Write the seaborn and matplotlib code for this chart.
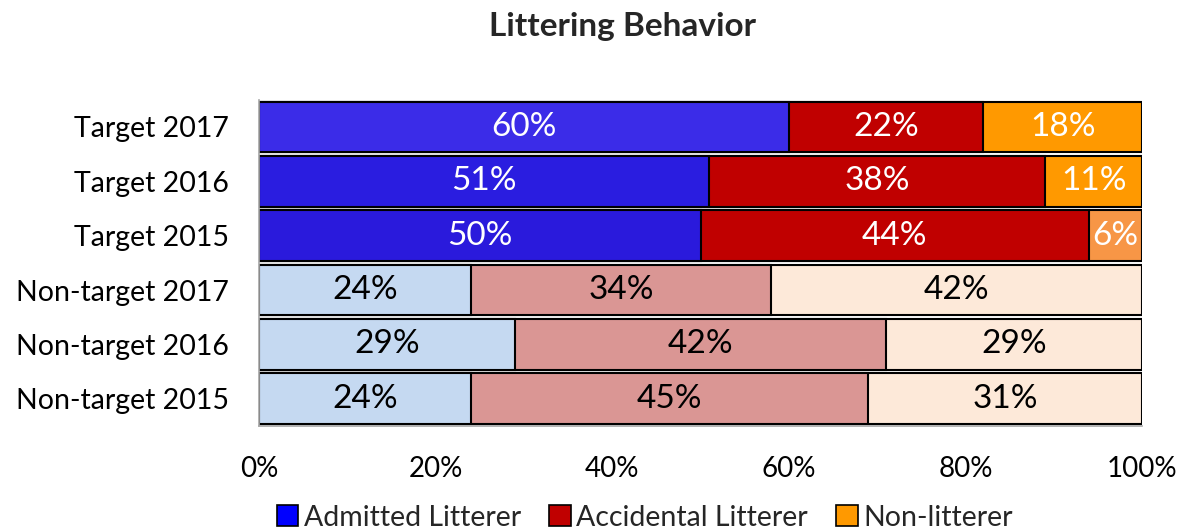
import numpy as np
import pandas as pd
import matplotlib
matplotlib.use("Agg")
import matplotlib.pyplot as plt
from matplotlib.patches import Patch
from matplotlib.ticker import FixedLocator, PercentFormatter
import seaborn as sns

categories = ["Target 2017", "Target 2016", "Target 2015",
              "Non-target 2017", "Non-target 2016", "Non-target 2015"]
admitted = [60, 51, 50, 24, 29, 24]
accidental = [22, 38, 44, 34, 42, 45]
non_litterer = [18, 11, 6, 42, 29, 31]
series_names = ["Admitted Litterer", "Accidental Litterer", "Non-litterer"]

admitted_colors = ["#3B2CE8", "#2A1DE0", "#2A1ADC", "#C5D9F1", "#C5D9F1", "#C5D9F1"]
accidental_colors = ["#C00000", "#C00000", "#C00000", "#DA9694", "#DA9694", "#DA9694"]
non_colors = ["#FF9900", "#FF9900", "#F79646", "#FDE9D9", "#FDE9D9", "#FDE9D9"]
text_colors = ["white", "white", "white", "black", "black", "black"]
legend_colors = ["#0000FF", "#C00000", "#FF9900"]

df = pd.DataFrame({"group": categories, "admitted": admitted,
                   "accidental": accidental, "non": non_litterer})
df["cum_acc"] = df["admitted"] + df["accidental"]
df["cum_all"] = df["cum_acc"] + df["non"]

sns.set_style("white")
plt.rcParams["font.family"] = ["Lato", "DejaVu Sans"]

fig = plt.figure(figsize=(11.83, 5.31), dpi=100)
ax = fig.add_axes([0.219, 0.198, 0.7465, 0.614])

# stacked bars drawn as cumulative layers, widest first
for col, colors in [("cum_all", non_colors), ("cum_acc", accidental_colors),
                    ("admitted", admitted_colors)]:
    sns.barplot(data=df, x=col, y="group", order=categories, orient="h",
                color="white", width=0.93, edgecolor="black", linewidth=1.5,
                ax=ax)
    for patch, c in zip(ax.containers[-1], colors):
        patch.set_facecolor(c)

# segment labels
for i, row in df.iterrows():
    lefts = [0, row["admitted"], row["cum_acc"]]
    vals = [row["admitted"], row["accidental"], row["non"]]
    for left, v in zip(lefts, vals):
        ax.text(left + v / 2, i, f"{v}%", ha="center", va="center",
                fontsize=24, color=text_colors[i])

ax.set_xlim(0, 100)
ax.set_ylim(5.5, -0.5)
ax.xaxis.set_major_locator(FixedLocator([0, 20, 40, 60, 80, 100]))
ax.xaxis.set_major_formatter(PercentFormatter(decimals=0))
ax.set_xlabel("")
ax.set_ylabel("")

for side in ["top", "right"]:
    ax.spines[side].set_visible(False)
for side in ["left", "bottom"]:
    ax.spines[side].set_color("#A6A6A6")
    ax.spines[side].set_linewidth(1.2)

ax.tick_params(axis="y", which="major", length=0, labelsize=20.5, pad=22,
               labelcolor="black")
ax.yaxis.set_minor_locator(FixedLocator(np.arange(-0.5, 6, 1)))
ax.tick_params(axis="y", which="minor", length=8, color="#A6A6A6", width=1.2)
ax.tick_params(axis="x", which="major", length=8, color="#A6A6A6", width=1.2,
               labelsize=20, pad=14, labelcolor="black")

fig.text(0.526, 0.95, "Littering Behavior", ha="center", va="center",
         fontsize=24, fontweight="bold")

handles = [Patch(facecolor=c, edgecolor="black", linewidth=1.2) for c in legend_colors]
fig.legend(handles, series_names, loc="center", bbox_to_anchor=(0.545, 0.025),
           ncol=3, frameon=False, fontsize=20.5, handlelength=0.75, handleheight=0.75,
           handletextpad=0.2, columnspacing=1.0, borderpad=0.1)

fig.savefig("out.png", dpi=100)
